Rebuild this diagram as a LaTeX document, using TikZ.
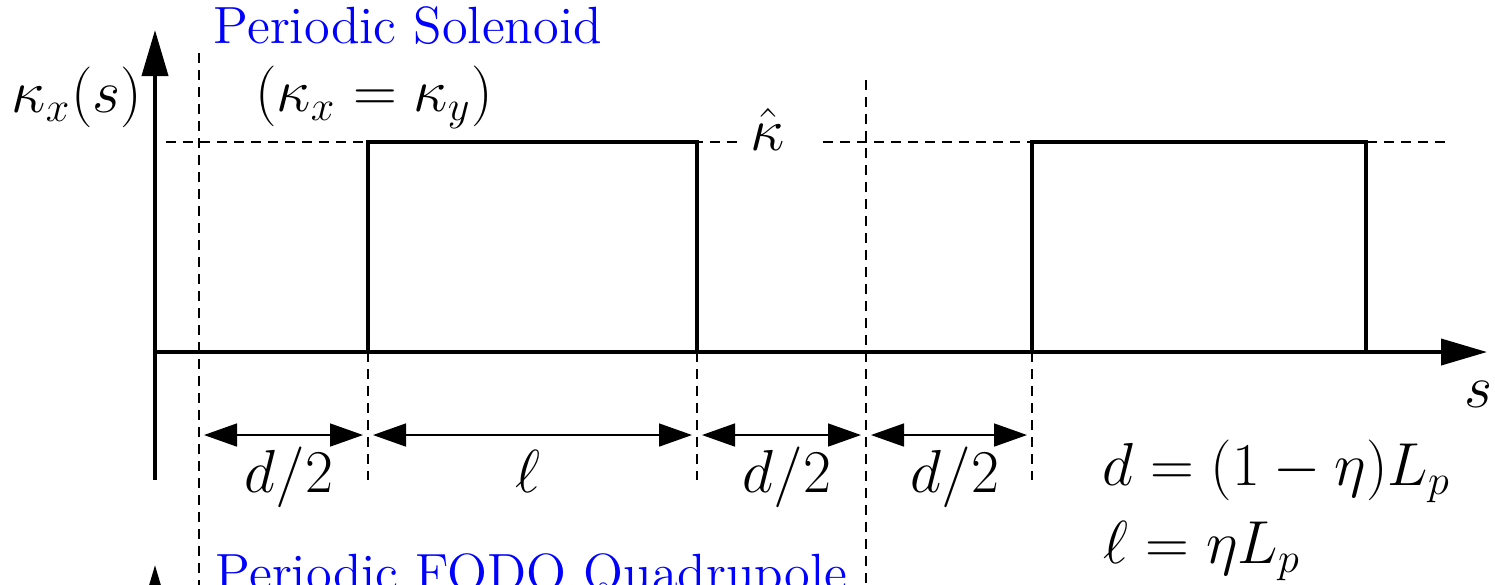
\documentclass[tikz,border=0pt]{standalone}
\usetikzlibrary{arrows.meta, positioning}

\begin{document}
\begin{tikzpicture}[x=0.1mm, y=-0.1mm]
  \tikzstyle{axis} = [line width=1.1pt, -{Triangle[length=4.6mm, width=2.6mm]}]
  \tikzstyle{guide} = [line width=0.5pt, dash pattern=on 1mm off 0.7mm]
  \tikzstyle{magnet} = [line width=0.9pt]
  \tikzstyle{dimline} = [line width=0.45pt, shorten <=0.5mm, shorten >=0.5mm, {Triangle[length=3.3mm, width=2.3mm]}-{Triangle[length=3.3mm, width=2.3mm]}]
  \tikzstyle{lbl} = [inner sep=0pt, font=\fontsize{17}{20}\selectfont]
  \tikzstyle{title} = [inner sep=0pt, text=blue, font=\rmfamily\fontsize{14.9}{18}\selectfont]

  \useasboundingbox (0,0) rectangle (1495,584);
  \clip (0,0) rectangle (1495,584);

  % axes
  \coordinate (origin) at (155,352);
  \coordinate (ytop) at (155,30);
  \coordinate (ybot) at (155,480);
  \coordinate (xend) at (1487,352);
  \draw[axis] (ybot) -- (ytop);
  \draw[axis] (origin) -- (xend);
  \coordinate (ytop2) at (155,565);
  \coordinate (ybot2) at (155,700);
  \draw[axis] (ybot2) -- (ytop2);

  % cell boundaries
  \draw[guide] (199,53) -- (199,600);
  \draw[guide] (866,80) -- (866,600);
  \foreach \xc in {368, 697, 1032}
    \draw[guide] (\xc,352) -- (\xc,480);

  % peak level
  \draw[guide] (166,142) -- (742,142);
  \draw[guide] (823,142) -- (1450,142);
  \node[lbl, anchor=base] (khat) at (768,150) {$\hat\kappa$};

  % solenoids
  \draw[magnet] (368,352) |- (697,142) -- (697,352);
  \draw[magnet] (1032,352) |- (1366,142) -- (1366,352);

  % dimensions
  \coordinate (m0) at (199,435);
  \coordinate (m1) at (368,435);
  \coordinate (m2) at (697,435);
  \coordinate (m3) at (866,435);
  \coordinate (m4) at (1032,435);
  \draw[dimline] (m0) -- (m1);
  \draw[dimline] (m1) -- (m2);
  \draw[dimline] (m2) -- (m3);
  \draw[dimline] (m3) -- (m4);
  \node[lbl, anchor=base] (half1) at (289,492) {$d/2$};
  \node[lbl, anchor=base] (len) at (528,492) {$\ell$};
  \node[lbl, anchor=base] (half2) at (787,492) {$d/2$};
  \node[lbl, anchor=base] (half3) at (955,492) {$d/2$};

  % labels
  \node[lbl] (ylabel) at (77,97) {$\kappa_x(s)$};
  \node[lbl] (equal) at (374,97) {$(\kappa_x=\kappa_y)$};
  \node[lbl, anchor=base] (slabel) at (1478,407) {$s$};
  \node[lbl, anchor=base west] (deq) at (1102,485) {$d=(1-\eta)L_p$};
  \node[lbl, anchor=base west] (leq) at (1103,563) {$\ell=\eta L_p$};
  \node[title, anchor=base west] (solenoid) at (213,43) {Periodic Solenoid};
  \node[title, anchor=base west] (fodo) at (215,590) {Periodic FODO Quadrupole};
\end{tikzpicture}
\end{document}
